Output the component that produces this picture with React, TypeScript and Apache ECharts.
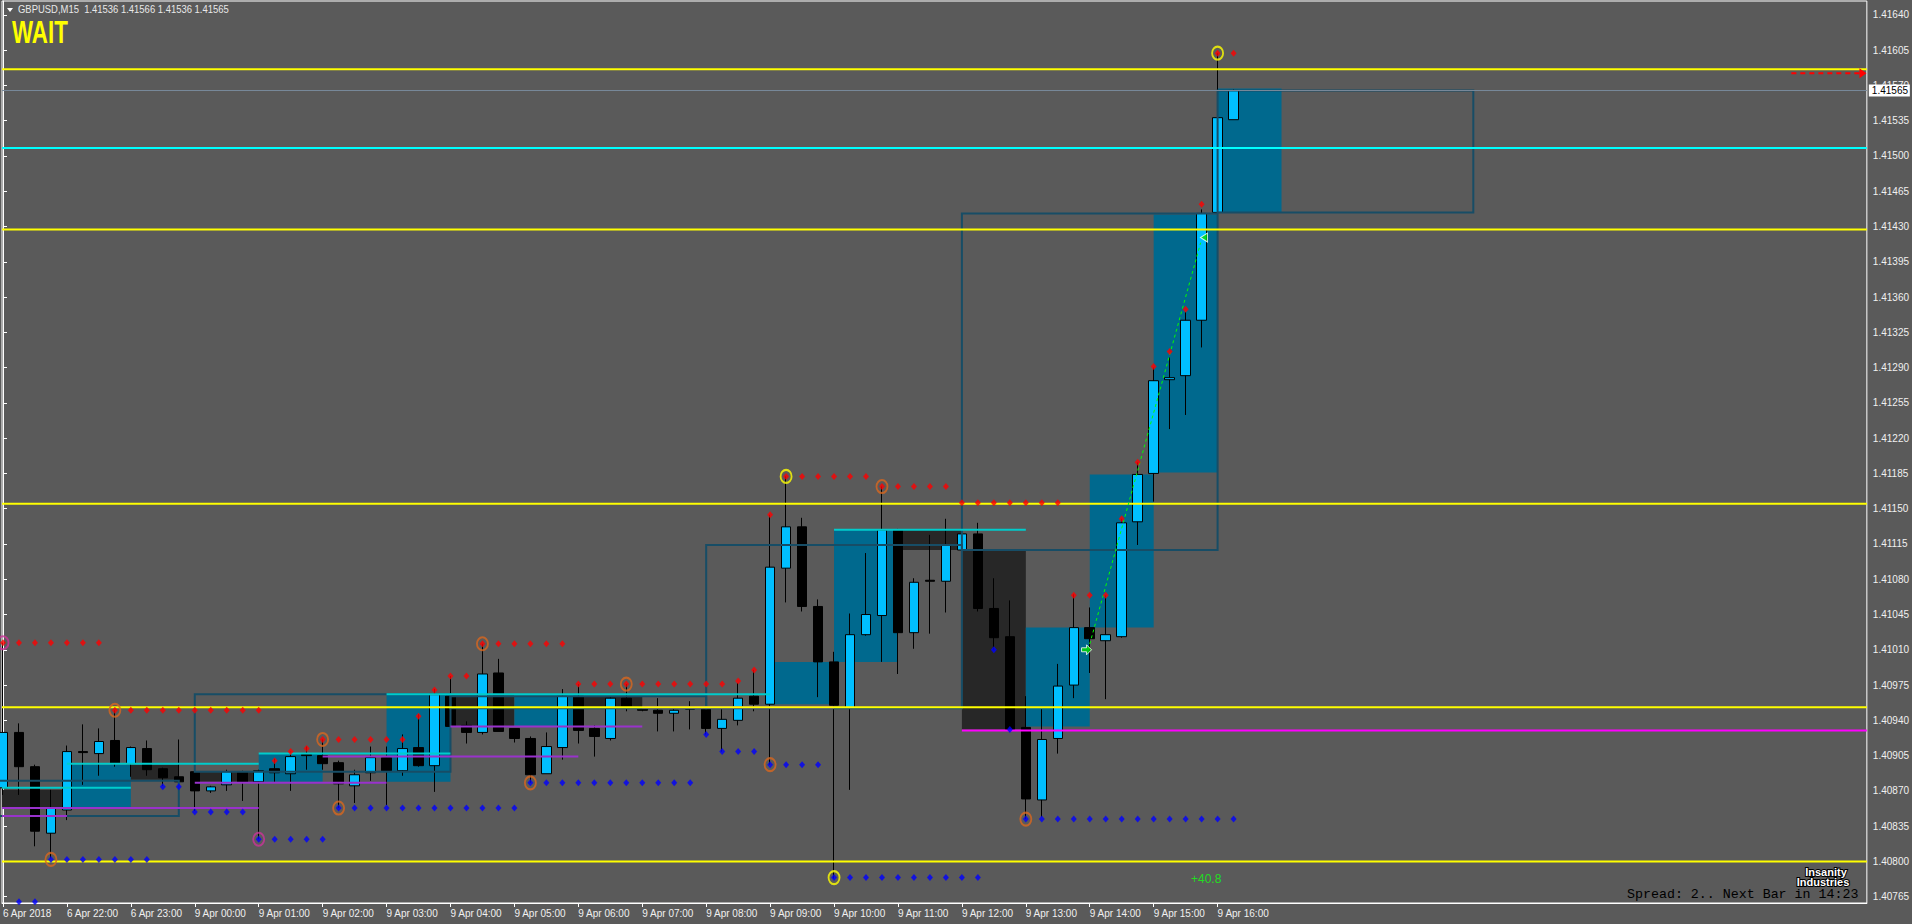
import React, { useEffect, useRef } from "react";
import * as echarts from "echarts";

// ---------- axis labels ----------
const timeLabels = [
  "6 Apr 2018", "6 Apr 22:00", "6 Apr 23:00", "9 Apr 00:00", "9 Apr 01:00",
  "9 Apr 02:00", "9 Apr 03:00", "9 Apr 04:00", "9 Apr 05:00", "9 Apr 06:00",
  "9 Apr 07:00", "9 Apr 08:00", "9 Apr 09:00", "9 Apr 10:00", "9 Apr 11:00",
  "9 Apr 12:00", "9 Apr 13:00", "9 Apr 14:00", "9 Apr 15:00", "9 Apr 16:00",
];
const barsPerLabel = 4;
const priceTicks = [
  1.4164, 1.41605, 1.4157, 1.41535, 1.415, 1.41465, 1.4143, 1.41395, 1.4136,
  1.41325, 1.4129, 1.41255, 1.4122, 1.41185, 1.4115, 1.41115, 1.4108, 1.41045,
  1.4101, 1.40975, 1.4094, 1.40905, 1.4087, 1.40835, 1.408, 1.40765,
];

// ---------- M15 candles (bar 0 = 6 Apr 21:00) ----------
const opens = [
  1.40873, 1.40928, 1.40894, 1.40828, 1.40851, 1.40909, 1.40907, 1.4092, 1.40897, 1.40912,
  1.40892, 1.40884, 1.40889, 1.4087, 1.40876, 1.40889, 1.40879, 1.40892, 1.40887, 1.40906,
  1.40905, 1.40898, 1.40875, 1.40888, 1.40903, 1.4089, 1.40913, 1.40895, 1.40964, 1.40935,
  1.40928, 1.40987, 1.40932, 1.40922, 1.40887, 1.40913, 1.40964, 1.40932, 1.40922, 1.40962,
  1.40953, 1.4095, 1.40947, 1.40951, 1.40952, 1.40932, 1.4094, 1.40964, 1.40956, 1.41091,
  1.41132, 1.41053, 1.40998, 1.40952, 1.41025, 1.41044, 1.41129, 1.41027, 1.41079, 1.41078,
  1.41109, 1.41125, 1.41051, 1.41023, 1.40933, 1.40861, 1.40922, 1.40975, 1.41032, 1.41019,
  1.41023, 1.41137, 1.41185, 1.41278, 1.41282, 1.41337, 1.41444, 1.41536,
];
const highs = [
  1.41017, 1.40937, 1.40896, 1.40871, 1.40915, 1.40936, 1.40932, 1.4095, 1.40914, 1.4092,
  1.40893, 1.40921, 1.40889, 1.40875, 1.40891, 1.4089, 1.40891, 1.40902, 1.40909, 1.40914,
  1.40921, 1.409, 1.40891, 1.40914, 1.40914, 1.40926, 1.40946, 1.40971, 1.40984, 1.40939,
  1.41016, 1.41001, 1.40932, 1.40924, 1.40928, 1.40971, 1.40976, 1.40935, 1.40963, 1.40976,
  1.40953, 1.40962, 1.40952, 1.40959, 1.40954, 1.40951, 1.40977, 1.4099, 1.41144, 1.41182,
  1.41141, 1.4106, 1.41008, 1.41046, 1.41106, 1.41172, 1.4113, 1.41081, 1.41124, 1.4114,
  1.41127, 1.41136, 1.41081, 1.41059, 1.40964, 1.40951, 1.40996, 1.41065, 1.41052, 1.41064,
  1.4114, 1.41196, 1.4129, 1.413, 1.41345, 1.41447, 1.41602, 1.41566,
];
const lows = [
  1.40866, 1.40866, 1.40815, 1.40803, 1.40841, 1.40876, 1.40885, 1.40894, 1.40884, 1.40885,
  1.40875, 1.40879, 1.4085, 1.40868, 1.4087, 1.4086, 1.40822, 1.40879, 1.4087, 1.40891,
  1.40891, 1.40853, 1.40858, 1.4088, 1.40856, 1.40885, 1.40894, 1.40869, 1.40934, 1.40917,
  1.40926, 1.40929, 1.40918, 1.40878, 1.40887, 1.40901, 1.40917, 1.40904, 1.4092, 1.40949,
  1.40949, 1.40929, 1.40929, 1.40931, 1.40926, 1.40909, 1.40935, 1.40949, 1.40896, 1.41057,
  1.41048, 1.40963, 1.40783, 1.40871, 1.41024, 1.40998, 1.40986, 1.41011, 1.41026, 1.41047,
  1.41108, 1.41048, 1.4101, 1.40929, 1.40842, 1.40844, 1.40907, 1.40962, 1.40987, 1.40961,
  1.41022, 1.41114, 1.41157, 1.41229, 1.41243, 1.4131, 1.41443, 1.41536,
];
const closes = [
  1.40928, 1.40894, 1.4083, 1.40853, 1.40909, 1.40908, 1.40919, 1.40897, 1.40913, 1.40891,
  1.40883, 1.40879, 1.4087, 1.40874, 1.40889, 1.40879, 1.4089, 1.40888, 1.40904, 1.40905,
  1.40897, 1.40877, 1.40886, 1.40903, 1.4089, 1.40912, 1.40895, 1.40966, 1.40934, 1.40928,
  1.40986, 1.40929, 1.40922, 1.40886, 1.40914, 1.40964, 1.4093, 1.40924, 1.40962, 1.40954,
  1.4095, 1.40947, 1.4095, 1.40953, 1.40932, 1.40941, 1.40962, 1.40956, 1.41092, 1.41132,
  1.41053, 1.40998, 1.40955, 1.41025, 1.41045, 1.41129, 1.41027, 1.41077, 1.41078, 1.41114,
  1.41125, 1.41051, 1.41022, 1.40931, 1.40862, 1.40921, 1.40974, 1.41032, 1.41021, 1.41025,
  1.41136, 1.41184, 1.41277, 1.4128, 1.41337, 1.41443, 1.41538, 1.41565,
];

// ---------- overlays (bar index, price) ----------
// H1 body zones: [fromBar, toBar, price1, price2, bullish(1)/bearish(0)]
const h1Zones = [
  [-1, 4, 1.40871, 1.40853, 0],
  [4, 8, 1.40896, 1.40853, 1],
  [8, 11, 1.40896, 1.40881, 0],
  [12, 16, 1.40889, 1.40879, 0],
  [16, 20, 1.40907, 1.40879, 1],
  [24, 28, 1.40966, 1.40879, 1],
  [28, 32, 1.40966, 1.40934, 0],
  [32, 36, 1.40966, 1.40934, 1],
  [36, 40, 1.40964, 1.40953, 0],
  [48, 52, 1.40998, 1.40956, 1],
  [52, 56, 1.41129, 1.40998, 1],
  [56, 60, 1.41129, 1.41109, 0],
  [60, 64, 1.41109, 1.40931, 0],
  [64, 68, 1.41032, 1.40934, 1],
  [68, 72, 1.41184, 1.41032, 1],
  [72, 76, 1.41442, 1.41186, 1],
  [76, 80, 1.41567, 1.41444, 1],
];
// H4 body outlines: [fromBar, toBar, price1, price2]
const h4Boxes = [
  [-4, 11, 1.4088, 1.40845],
  [12, 28, 1.40966, 1.40889],
  [28, 44, 1.40964, 1.40952],
  [44, 60, 1.40952, 1.41114],
  [60, 76, 1.41109, 1.41443],
  [76, 92, 1.41444, 1.41565],
];
const cyanSegments = [
  [-1, 8, 1.40873],
  [4, 16, 1.40897],
  [16, 28, 1.40907],
  [24, 48, 1.40966],
  [52, 64, 1.41129],
];
const purpleSegments = [
  [-1, 4, 1.40845],
  [-1, 16, 1.40853],
  [12, 24, 1.40878],
  [20, 36, 1.40904],
  [28, 40, 1.40934],
  [40, 52, 1.40953],
];
const magentaSegments = [[60, 117, 1.4093]];
const yellowLevels = [1.41586, 1.41427, 1.41155, 1.40953, 1.408];
const cyanLevels = [1.41508];
const bidPrice = 1.41565;
const alertLevel = [111.9, 116.6, 1.41582];

// dot runs: [fromBar, toBar, price]
const redDotRuns = [
  [0, 6, 1.41017], [7, 16, 1.4095], [17, 17, 1.409], [18, 18, 1.40909], [19, 19, 1.40912],
  [20, 25, 1.40921], [26, 26, 1.40944], [27, 27, 1.4097], [28, 29, 1.40984], [30, 35, 1.41016],
  [36, 45, 1.40976], [46, 46, 1.40979], [47, 47, 1.4099], [48, 48, 1.41144], [49, 54, 1.41182],
  [55, 59, 1.41172], [60, 66, 1.41156], [67, 69, 1.41064], [70, 70, 1.4114], [71, 71, 1.41196],
  [72, 72, 1.41291], [73, 73, 1.41306], [74, 74, 1.41348], [75, 75, 1.41452], [76, 77, 1.41602],
];
const blueDotRuns = [
  [1, 2, 1.4076], [3, 9, 1.40802], [10, 11, 1.40874], [12, 15, 1.40849], [16, 20, 1.40822],
  [21, 32, 1.40853], [33, 43, 1.40878], [44, 44, 1.40926], [45, 47, 1.40909], [48, 51, 1.40896],
  [52, 61, 1.40784], [62, 62, 1.4101], [63, 63, 1.40931], [64, 77, 1.40842],
];
// fractal rings: [bar, price, colour key]
const rings: [number, number, string][] = [
  [0, 1.41017, "m"], [3, 1.40802, "o"], [7, 1.4095, "o"], [16, 1.40822, "m"], [20, 1.40921, "o"],
  [21, 1.40853, "o"], [30, 1.41016, "o"], [33, 1.40878, "o"], [39, 1.40976, "o"], [48, 1.40896, "o"],
  [49, 1.41182, "y"], [52, 1.40784, "y"], [55, 1.41172, "o"], [64, 1.40842, "o"], [76, 1.41602, "y"],
];
const signalLine = [[67.9, 1.4101], [74.94, 1.41414]];
const buyArrow = [67.8, 1.4101];
const targetArrow = [75.15, 1.41419];

// ---------- styles ----------
const BG = "#5a5a5a";
const TEAL = "#00698e";
const DARK = "#272727";
const BOX = "#174d66";
const FONT = '"Liberation Sans", Arial, sans-serif';
const ringColors: Record<string, string> = { m: "#cc3399", o: "#d8661e", y: "#ffff00" };

const X_MIN = -0.0625;
const X_MAX = 116.625;
const Y_MIN = 1.4075875;
const Y_MAX = 1.4165377;

function expandRuns(runs: number[][]) {
  const out: number[][] = [];
  runs.forEach(([a, b, p]) => {
    for (let i = a; i <= b; i++) out.push([i, p]);
  });
  return out;
}

function clipX(v: number, cs: any) {
  return Math.max(cs.x, Math.min(cs.x + cs.width, v));
}

export default function App() {
  const ref = useRef<HTMLDivElement>(null);
  useEffect(() => {
    if (!ref.current) return;
    const chart = echarts.init(ref.current, undefined, { renderer: "svg" });
    const labelBars = timeLabels.map((_, k) => k * barsPerLabel);
    const candles = opens.map((o, i) => [i, o, closes[i], lows[i], highs[i]]);

    const segSeries = (segs: number[][], color: string, z: number, width = 2) => ({
      type: "custom",
      coordinateSystem: "cartesian2d",
      silent: true,
      z,
      data: segs,
      encode: { x: [0, 1], y: 2 },
      renderItem: (params: any, api: any) => {
        const a = api.coord([api.value(0), api.value(2)]);
        const b = api.coord([api.value(1), api.value(2)]);
        const cs = params.coordSys;
        return {
          type: "line",
          shape: { x1: clipX(a[0], cs), y1: a[1], x2: clipX(b[0], cs), y2: b[1] },
          style: { stroke: color, lineWidth: width },
        };
      },
    });

    const option: any = {
      animation: false,
      backgroundColor: BG,
      grid: {
        left: 2, top: 1, width: 1867, height: 902,
        show: true, borderColor: "#ffffff", borderWidth: 1, backgroundColor: BG,
      },
      xAxis: {
        type: "value", min: X_MIN, max: X_MAX, position: "bottom",
        axisLine: { show: true, lineStyle: { color: "#ffffff", width: 1 } },
        axisTick: { show: true, customValues: labelBars, length: 4, lineStyle: { color: "#ffffff" } },
        axisLabel: {
          customValues: labelBars,
          formatter: (v: number) => timeLabels[Math.round(v / barsPerLabel)] ?? "",
          color: "#f0f0f0", fontSize: 10, fontFamily: FONT, align: "left", margin: 5,
        },
        splitLine: { show: false },
      },
      yAxis: {
        type: "value", min: Y_MIN, max: Y_MAX, position: "right", scale: true,
        axisLine: { show: true, lineStyle: { color: "#ffffff", width: 1 } },
        axisTick: { show: true, customValues: priceTicks, length: 4, lineStyle: { color: "#ffffff" } },
        axisLabel: {
          customValues: priceTicks,
          formatter: (v: number) => v.toFixed(5),
          color: "#f0f0f0", fontSize: 10, fontFamily: FONT, margin: 6,
        },
        splitLine: { show: false },
      },
      graphic: [
        { type: "polygon", silent: true, shape: { points: [[7, 8], [13, 8], [10, 12]] }, style: { fill: "#ffffff" } },
        {
          type: "text", silent: true, x: 18, y: 4, scaleX: 0.86,
          style: { text: "GBPUSD,M15  1.41536 1.41566 1.41536 1.41565", fill: "#e8e8e8", font: `11px ${FONT}`, verticalAlign: "top", align: "left" },
        },
        {
          type: "text", silent: true, x: 12, y: 17, scaleX: 0.72,
          style: { text: "WAIT", fill: "#ffff00", font: `bold 31px ${FONT}`, verticalAlign: "top", align: "left" },
        },
        {
          type: "text", silent: true, x: 1191, y: 873,
          style: { text: "+40.8", fill: "#22dd22", font: `12px ${FONT}`, verticalAlign: "top", align: "left" },
        },
        {
          type: "text", silent: true, x: 1826, y: 866,
          style: { text: "Insanity", fill: "#ffffff", stroke: "#000000", lineWidth: 2, font: `bold 11px ${FONT}`, verticalAlign: "top", align: "center" },
        },
        {
          type: "text", silent: true, x: 1823, y: 876,
          style: { text: "Industries", fill: "#ffffff", stroke: "#000000", lineWidth: 2, font: `bold 11px ${FONT}`, verticalAlign: "top", align: "center" },
        },
        {
          type: "text", silent: true, x: 1627, y: 888,
          style: { text: "Spread: 2.. Next Bar in 14:23", fill: "#000000", font: '13.3px "Liberation Mono", monospace', verticalAlign: "top", align: "left" },
        },
      ],
      series: [
        {
          type: "custom", coordinateSystem: "cartesian2d", silent: true, z: 1,
          data: h1Zones, encode: { x: [0, 1], y: [2, 3] },
          renderItem: (params: any, api: any) => {
            const a = api.coord([api.value(0), api.value(2)]);
            const b = api.coord([api.value(1), api.value(3)]);
            const cs = params.coordSys;
            const r = echarts.graphic.clipRectByRect(
              { x: a[0], y: Math.min(a[1], b[1]), width: b[0] - a[0], height: Math.abs(b[1] - a[1]) },
              { x: cs.x, y: cs.y, width: cs.width, height: cs.height }
            );
            if (!r) return null;
            return { type: "rect", shape: r, style: { fill: api.value(4) === 1 ? TEAL : DARK } };
          },
        },
        {
          type: "candlestick", name: "GBPUSD", z: 2, silent: true,
          data: candles, barWidth: 10,
          itemStyle: { color: "#00bfff", color0: "#000000", borderColor: "#000000", borderColor0: "#000000", borderWidth: 1 },
        },
        {
          type: "custom", coordinateSystem: "cartesian2d", silent: true, z: 3,
          data: h4Boxes, encode: { x: [0, 1], y: [2, 3] },
          renderItem: (params: any, api: any) => {
            const a = api.coord([api.value(0), api.value(2)]);
            const b = api.coord([api.value(1), api.value(3)]);
            const cs = params.coordSys;
            const x1 = Math.max(a[0], cs.x - 4);
            return {
              type: "rect",
              shape: { x: x1, y: Math.min(a[1], b[1]), width: b[0] - x1, height: Math.abs(b[1] - a[1]) },
              style: { fill: "none", stroke: BOX, lineWidth: 2 },
            };
          },
        },
        segSeries(cyanSegments, "#00cccc", 3),
        segSeries(purpleSegments, "#9932cc", 3),
        segSeries(magentaSegments, "#ff00ff", 3),
        segSeries(yellowLevels.map((p) => [X_MIN, X_MAX, p]), "#ffff00", 3),
        segSeries(cyanLevels.map((p) => [X_MIN, X_MAX, p]), "#00ffff", 3),
        // bid line with price label
        {
          type: "custom", coordinateSystem: "cartesian2d", silent: true, z: 3,
          data: [[X_MIN, X_MAX, bidPrice]], encode: { x: [0, 1], y: 2 },
          renderItem: (params: any, api: any) => {
            const a = api.coord([api.value(0), api.value(2)]);
            const b = api.coord([api.value(1), api.value(2)]);
            const y = Math.round(a[1]) + 0.5;
            return {
              type: "group",
              children: [
                { type: "line", shape: { x1: a[0], y1: y, x2: b[0], y2: y }, style: { stroke: "#778899", lineWidth: 1 } },
                { type: "rect", shape: { x: b[0] + 2, y: y - 6, width: 41, height: 12 }, style: { fill: "#ffffff" } },
                {
                  type: "text", x: b[0] + 5, y: y,
                  style: { text: api.value(2).toFixed(5), fill: "#000000", font: `10px ${FONT}`, verticalAlign: "middle", align: "left" },
                },
              ],
            };
          },
        },
        // red dashed alert arrow
        {
          type: "custom", coordinateSystem: "cartesian2d", silent: true, z: 4,
          data: [alertLevel], encode: { x: [0, 1], y: 2 },
          renderItem: (params: any, api: any) => {
            const a = api.coord([api.value(0), api.value(2)]);
            const b = api.coord([api.value(1), api.value(2)]);
            return {
              type: "group",
              children: [
                { type: "line", shape: { x1: a[0], y1: a[1], x2: b[0] - 6, y2: b[1] }, style: { stroke: "#ff0000", lineWidth: 2, lineDash: [5, 4] } },
                { type: "polygon", shape: { points: [[b[0] - 7, b[1] - 5], [b[0], b[1]], [b[0] - 7, b[1] + 5]] }, style: { fill: "#ff0000" } },
              ],
            };
          },
        },
        {
          type: "line", silent: true, z: 4, data: signalLine, symbol: "none",
          lineStyle: { color: "#00ff00", width: 1, type: [3, 3] },
        },
        {
          type: "scatter", silent: true, z: 4, data: expandRuns(redDotRuns),
          symbol: "diamond", symbolSize: [6, 7], itemStyle: { color: "#ff0000" },
        },
        {
          type: "scatter", silent: true, z: 4, data: expandRuns(blueDotRuns),
          symbol: "diamond", symbolSize: [6, 7], itemStyle: { color: "#0000ff" },
        },
        {
          type: "scatter", silent: true, z: 5,
          data: rings.map(([b, p, c]) => ({
            value: [b, p],
            itemStyle: { color: "rgba(0,0,0,0)", borderColor: ringColors[c], borderWidth: 2 },
          })),
          symbol: "path://M0,6 A5,6 0 1,1 10,6 A5,6 0 1,1 0,6 Z", symbolSize: [11, 13],
        },
        {
          type: "scatter", silent: true, z: 6, data: [buyArrow],
          symbol: "path://M0,3L5,3L5,0L10,5L5,10L5,7L0,7Z", symbolSize: [10, 10],
          itemStyle: { color: "#00dd00", borderColor: "#ffffff", borderWidth: 1 },
        },
        {
          type: "scatter", silent: true, z: 6, data: [targetArrow],
          symbol: "path://M10,0L10,10L0,5Z", symbolSize: [7, 9],
          itemStyle: { color: "#00dd00", borderColor: "#ffffff", borderWidth: 1 },
        },
      ],
    };
    chart.setOption(option);
    return () => chart.dispose();
  }, []);

  return (
    <div
      ref={ref}
      style={{ position: "fixed", left: 0, top: 0, width: "1912px", height: "924px", background: BG }}
    />
  );
}
